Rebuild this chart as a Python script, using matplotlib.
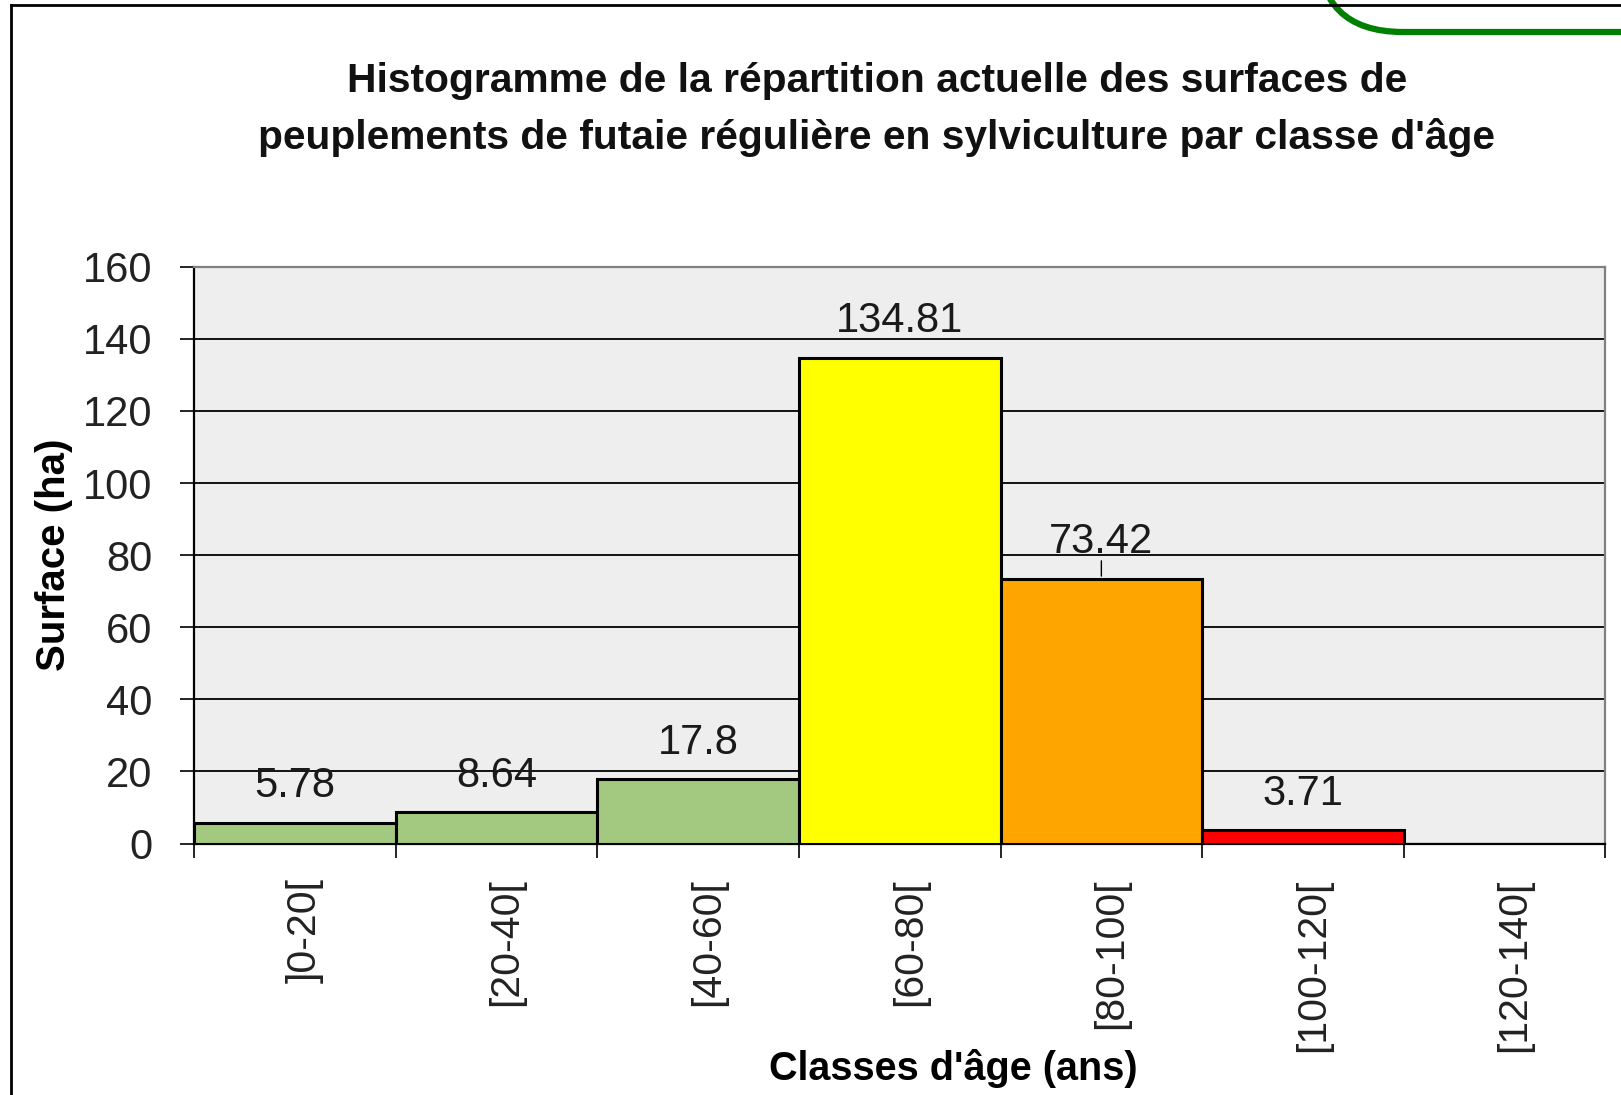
import numpy as np
import matplotlib
matplotlib.use("Agg")
import matplotlib.pyplot as plt
import matplotlib.transforms as mtransforms
from matplotlib.patches import FancyBboxPatch
from matplotlib.lines import Line2D

# données
classes = [']0-20[', '[20-40[', '[40-60[', '[60-80[', '[80-100[', '[100-120[', '[120-140[']
surfaces = [5.78, 8.64, 17.8, 134.81, 73.42, 3.71, 0]
couleurs = ['#a2c97f', '#a2c97f', '#a2c97f', '#ffff00', '#ffa500', '#ff0000', '#a2c97f']
etiquettes = ['5.78', '8.64', '17.8', '134.81', '73.42', '3.71', '']

titre = ("Histogramme de la répartition actuelle des surfaces de\n"
         "peuplements de futaie régulière en sylviculture par classe d'âge")

plt.rcParams['font.family'] = ['Liberation Sans', 'DejaVu Sans']

fig = plt.figure(figsize=(16.21, 10.95), dpi=100)
fig.patch.set_facecolor('white')

ax = fig.add_axes([0.1197, 0.2296, 0.8707, 0.5268])
ax.set_facecolor('#eeeeee')

x = np.arange(len(classes))
ax.bar(x, surfaces, width=1.0, align='edge', color=couleurs,
       edgecolor='black', linewidth=2.2, zorder=3)

for xi, v, lab in zip(x, surfaces, etiquettes):
    if not lab:
        continue
    ax.annotate(lab, (xi + 0.5, v), xytext=(0, 12), textcoords='offset points',
                ha='center', va='bottom', fontsize=30, color='#1a1a1a', zorder=4)

# petit trait de rappel pour 73.42
i_rappel = 4
ax.annotate('', (x[i_rappel] + 0.5, surfaces[i_rappel]), xytext=(0, 15),
            textcoords='offset points',
            arrowprops=dict(arrowstyle='-', color='black', lw=1.0), zorder=4)

ax.set_xlim(0, len(classes))
ax.set_ylim(0, 160)
ax.set_yticks(np.arange(0, 161, 20))
ax.yaxis.grid(True, color='black', linewidth=1.3, zorder=1)
ax.set_axisbelow(True)

ax.set_xticks(np.arange(len(classes) + 1))
ax.set_xticklabels([])
ax.set_xticks(x + 0.5, minor=True)
ax.set_xticklabels(classes, minor=True, rotation=90, va='top', fontsize=29.5,
                   color='#222222')
ax.tick_params(axis='x', which='minor', length=0, pad=25)
ax.tick_params(axis='x', which='major', length=10, width=1.2, direction='out')
ax.tick_params(axis='y', length=10, width=1.2, labelsize=30, pad=20,
               labelcolor='#222222')

# les étiquettes pivotées sont légèrement décalées vers la droite
decalage = mtransforms.ScaledTranslation(10 / 100, 0, fig.dpi_scale_trans)
for t in ax.get_xticklabels(minor=True):
    t.set_transform(t.get_transform() + decalage)

for s in ['left', 'bottom']:
    ax.spines[s].set_color('black')
    ax.spines[s].set_linewidth(1.6)
for s in ['top', 'right']:
    ax.spines[s].set_color('#808080')
    ax.spines[s].set_linewidth(1.6)

ax.set_ylabel('Surface (ha)', fontsize=29, fontweight='bold', va='center')
ax.yaxis.set_label_coords(-0.099, 0.5)
ax.set_xlabel("Classes d'âge (ans)", fontsize=28.5, fontweight='bold',
              va='center')
ax.xaxis.set_label_coords(0.538, -0.39)

fig.text(0.541, 0.9, titre, ha='center', va='center', fontsize=29.3,
         fontweight='bold', linespacing=1.6, color='#111111')

# cadre de la figure (bords gauche et haut)
fig.add_artist(Line2D([11 / 1621, 11 / 1621], [0, 1 - 5 / 1095],
                      transform=fig.transFigure, color='black', lw=2))
fig.add_artist(Line2D([11 / 1621, 1], [1 - 5 / 1095, 1 - 5 / 1095],
                      transform=fig.transFigure, color='black', lw=2))

# coin arrondi vert en haut à droite
vert = FancyBboxPatch((1318, -300), 600, 332,
                      boxstyle='round,pad=0,rounding_size=85',
                      facecolor='none', edgecolor='#008000', linewidth=4.5)
vert.set_transform(mtransforms.Affine2D().scale(1, -1).translate(0, 1095))
fig.add_artist(vert)

fig.savefig('out.png', dpi=100)
